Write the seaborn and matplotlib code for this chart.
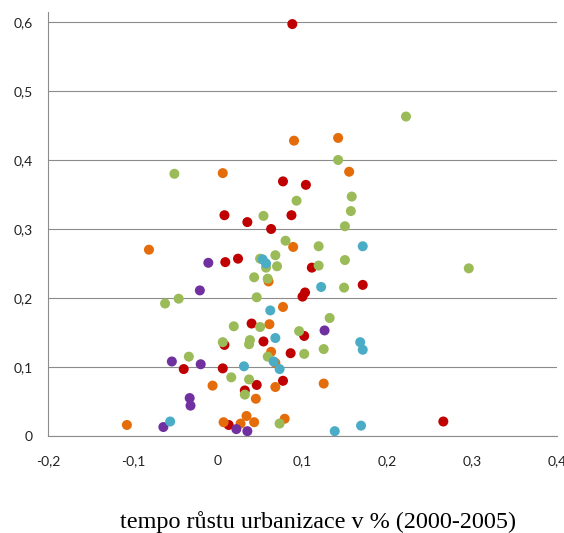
import matplotlib
matplotlib.use("Agg")
import pandas as pd
import seaborn as sns
import matplotlib.pyplot as plt

# series (x = growth of urbanisation, y = value)
red_x = [0.088, 0.077, 0.104, 0.008, 0.035, 0.063, 0.087, 0.009, 0.024, 0.111, 0.103, 0.100, 0.171,
         0.040, 0.054, 0.008, 0.102, 0.086, -0.040, 0.006, 0.046, 0.077, 0.032, 0.013, 0.266]
red_y = [0.597, 0.369, 0.364, 0.320, 0.310, 0.300, 0.320, 0.252, 0.257, 0.244, 0.208, 0.202, 0.219,
         0.163, 0.137, 0.132, 0.145, 0.120, 0.097, 0.098, 0.074, 0.080, 0.066, 0.016, 0.021]

orange_x = [0.090, 0.006, 0.142, 0.155, -0.081, 0.089, 0.060, 0.077, 0.061, 0.063, 0.068, -0.006,
            0.068, 0.045, 0.034, 0.007, 0.027, 0.043, 0.079, -0.107, 0.125]
orange_y = [0.428, 0.381, 0.432, 0.383, 0.270, 0.274, 0.224, 0.187, 0.162, 0.122, 0.106, 0.073,
            0.071, 0.054, 0.029, 0.020, 0.018, 0.020, 0.025, 0.016, 0.076]

green_x = [-0.051, 0.093, 0.054, 0.222, 0.142, 0.158, 0.157, 0.150, 0.080, 0.119, 0.119, 0.150,
           0.149, 0.296, 0.068, 0.070, 0.057, 0.050, 0.043, 0.059, 0.046, -0.046, -0.062, 0.019,
           0.050, 0.038, 0.037, 0.006, -0.034, 0.059, 0.016, 0.037, 0.032, 0.073, 0.132, 0.096,
           0.125, 0.102]
green_y = [0.380, 0.341, 0.319, 0.463, 0.400, 0.347, 0.326, 0.304, 0.283, 0.275, 0.247, 0.255,
           0.215, 0.243, 0.262, 0.246, 0.244, 0.257, 0.230, 0.228, 0.201, 0.199, 0.192, 0.159,
           0.158, 0.139, 0.133, 0.136, 0.115, 0.115, 0.085, 0.082, 0.060, 0.018, 0.171, 0.152,
           0.126, 0.119]

purple_x = [-0.011, -0.021, -0.054, -0.020, -0.033, -0.032, -0.064, 0.022, 0.035, 0.126]
purple_y = [0.251, 0.211, 0.108, 0.104, 0.055, 0.044, 0.013, 0.010, 0.007, 0.153]

blue_x = [0.053, 0.057, 0.062, 0.068, 0.031, 0.066, 0.073, -0.056, 0.171, 0.122, 0.168, 0.171,
          0.138, 0.169]
blue_y = [0.256, 0.250, 0.182, 0.142, 0.101, 0.108, 0.097, 0.021, 0.275, 0.216, 0.136, 0.125,
          0.007, 0.015]

groups = ["s1", "s2", "s3", "s4", "s5"]
colors = ["#C00000", "#E46C0A", "#9BBB59", "#7030A0", "#4BACC6"]

x_ticks = [-0.2, -0.1, 0, 0.1, 0.2, 0.3, 0.4]
x_tick_labels = ["-0,2", "-0,1", "0", "0,1", "0,2", "0,3", "0,4"]
y_ticks = [0, 0.1, 0.2, 0.3, 0.4, 0.5, 0.6]
y_tick_labels = ["0", "0,1", "0,2", "0,3", "0,4", "0,5", "0,6"]
x_label = "tempo růstu urbanizace v % (2000-2005)"

frames = []
for g, xs, ys in zip(groups,
                     [red_x, orange_x, green_x, purple_x, blue_x],
                     [red_y, orange_y, green_y, purple_y, blue_y]):
    frames.append(pd.DataFrame({"x": xs, "y": ys, "group": g}))
df = pd.concat(frames, ignore_index=True)

sns.set_style("white")
plt.rcParams["font.family"] = ["Lato", "DejaVu Sans"]

fig = plt.figure(figsize=(5.64, 5.33), dpi=100)
ax = fig.add_axes([48 / 564, 1 - 436 / 533, 509 / 564, 424 / 533])

sns.scatterplot(data=df, x="x", y="y", hue="group", hue_order=groups,
                palette=colors, s=52, linewidth=0, legend=False, ax=ax, zorder=3)

ax.set_xlim(-0.2, 0.4)
ax.set_ylim(0, 0.6145)
ax.set_xticks(x_ticks)
ax.set_xticklabels(x_tick_labels)
ax.set_yticks(y_ticks)
ax.set_yticklabels(y_tick_labels)
ax.set_xlabel("")
ax.set_ylabel("")

ax.yaxis.grid(True, color="#8c8c8c", linewidth=0.8)
ax.xaxis.grid(False)
for side in ["top", "right"]:
    ax.spines[side].set_visible(False)
for side in ["left", "bottom"]:
    ax.spines[side].set_color("#8c8c8c")
    ax.spines[side].set_linewidth(0.8)
ax.tick_params(axis="both", which="major", direction="out", length=4, width=0.8,
               color="#8c8c8c", labelsize=10, labelcolor="#222222")
ax.tick_params(axis="x", pad=10)
ax.tick_params(axis="y", pad=7)

fig.text(318 / 564, 1 - 522 / 533, x_label, ha="center", va="center",
         family="Liberation Serif", fontsize=17.4, color="black")

fig.savefig("out.png", dpi=100)
